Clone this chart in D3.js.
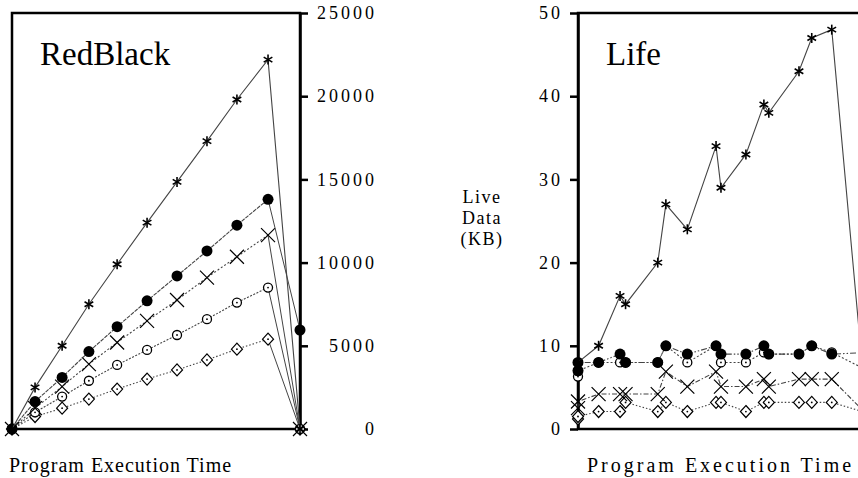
<!DOCTYPE html>
<html>
<head>
<meta charset="utf-8">
<script src="https://cdn.jsdelivr.net/npm/d3@7"></script>
<style>
  body { margin: 0; background: #fff; }
  svg { display: block; }
  text { font-family: "Liberation Serif", "DejaVu Serif", serif; fill: #000; }
</style>
</head>
<body>
<svg id="chart" width="858" height="478"></svg>
<script>
// RedBlack panel: time in % of run, live data in KB
const rbTime    = [0, 8, 17.4, 26.7, 36.5, 46.9, 57.3, 67.7, 78.1, 88.9, 100];
const rbStar    = [0, 2500, 5000, 7500, 9900, 12400, 14850, 17300, 19800, 22200, 0];
const rbFilled  = [0, 1650, 3100, 4650, 6150, 7700, 9200, 10700, 12250, 13800, 5950];
const rbCross   = [0, 1250, 2550, 3900, 5200, 6500, 7750, 9100, 10350, 11650, 0];
const rbOpen    = [0, 1000, 1950, 2900, 3850, 4750, 5650, 6600, 7600, 8500, 0];
const rbDiamond = [0, 750, 1250, 1800, 2400, 3000, 3550, 4150, 4800, 5400, 0];
const rbTicks   = [0, 5000, 10000, 15000, 20000, 25000];

// Life panel
const lifeTime    = [0, 0, 7.1, 14.5, 16.4, 27.5, 30.3, 37.7, 47.6, 49.3, 57.9, 64.1, 65.8, 76.2, 80.6, 87.5, 100];
const lifeStar    = [8, 8, 10, 16, 15, 20, 27, 24, 34, 29, 33, 39, 38, 43, 47, 48, 0];
const lifeFilled  = [7, 8, 8, 9, 8, 8, 10, 9, 10, 9, 9, 10, 9, 9, 10, 9, 9.2];
const lifeOpen    = [6.3, 7, 8, 8, 8, 8, 10, 8, 10, 8, 8, 9.2, 9, 9, 10, 9.2, 7];
const lifeCross   = [2.5, 3.3, 4.2, 4.2, 4.2, 4.2, 6.9, 5.1, 6.9, 5.1, 5.1, 6, 5.1, 6, 6, 6, 1.6];
const lifeDiamond = [1.2, 1.5, 2.1, 2.1, 3.2, 2.1, 3.2, 2.1, 3.2, 3.2, 2.1, 3.2, 3.2, 3.2, 3.2, 3.2, 1.9];
const lifeTicks   = [0, 10, 20, 30, 40, 50];

const svg = d3.select("#chart");

const leftX  = d3.scaleLinear().domain([0, 100]).range([12, 300]);
const leftY  = d3.scaleLinear().domain([0, 25000]).range([429, 13]);
const rightX = d3.scaleLinear().domain([0, 100]).range([578, 868]);
const rightY = d3.scaleLinear().domain([0, 50]).range([429, 13]);

// draw one marker glyph
function marker(g, type, x, y) {
    if (type === "star") {
        const r = 5;
        for (let a of [90, 30, -30]) {
            const dx = r * Math.cos(a * Math.PI / 180), dy = r * Math.sin(a * Math.PI / 180);
            g.append("line").attr("x1", x - dx).attr("y1", y - dy).attr("x2", x + dx).attr("y2", y + dy)
             .attr("stroke", "#000").attr("stroke-width", 1.6);
        }
    } else if (type === "filled") {
        g.append("circle").attr("cx", x).attr("cy", y).attr("r", 5.5).attr("fill", "#000");
    } else if (type === "cross") {
        const r = 7;
        g.append("path").attr("d", `M${x - r},${y - r}L${x + r},${y + r}M${x - r},${y + r}L${x + r},${y - r}`)
         .attr("stroke", "#000").attr("stroke-width", 1.2).attr("fill", "none");
    } else if (type === "open") {
        g.append("circle").attr("cx", x).attr("cy", y).attr("r", 4.5)
         .attr("fill", "#fff").attr("stroke", "#000").attr("stroke-width", 1.3);
        g.append("circle").attr("cx", x).attr("cy", y).attr("r", 0.9).attr("fill", "#000");
    } else if (type === "diamond") {
        g.append("path").attr("d", `M${x},${y - 6}L${x + 5.5},${y}L${x},${y + 6}L${x - 5.5},${y}Z`)
         .attr("fill", "#fff").attr("stroke", "#000").attr("stroke-width", 1.2);
        g.append("circle").attr("cx", x).attr("cy", y).attr("r", 0.9).attr("fill", "#000");
    }
}

function drawSeries(g, xs, ys, times, vals, type, dash, solidLast) {
    const line = d3.line().x(d => xs(d[0])).y(d => ys(d[1]));
    const pts = times.map((t, i) => [t, vals[i]]);
    const body = solidLast ? pts.slice(0, -1) : pts;
    g.append("path").datum(body).attr("d", line)
     .attr("fill", "none").attr("stroke", "#444").attr("stroke-width", 1.1)
     .attr("stroke-dasharray", dash);
    if (solidLast) {
        g.append("path").datum(pts.slice(-2)).attr("d", line)
         .attr("fill", "none").attr("stroke", "#444").attr("stroke-width", 1);
    }
    const mg = g.append("g");
    pts.forEach(p => marker(mg, type, xs(p[0]), ys(p[1])));
}

function styleAxis(a, labelX) {
    a.select(".domain").attr("stroke-width", 2.5);
    a.selectAll(".tick line").attr("stroke-width", 2.5);
    a.selectAll(".tick text")
     .attr("x", labelX).attr("text-anchor", "end")
     .style("font-family", '"Liberation Serif", serif')
     .style("font-size", "18px").style("letter-spacing", "3px");
}

// ---- RedBlack ----
const left = svg.append("g");
left.append("rect").attr("x", 12).attr("y", 13).attr("width", 288).attr("height", 416)
    .attr("fill", "none").attr("stroke", "#000").attr("stroke-width", 2.5);

const la = left.append("g").attr("transform", "translate(300,0)")
    .call(d3.axisRight(leftY).tickValues(rbTicks).tickSize(8).tickSizeOuter(0).tickFormat(d3.format("d")));
styleAxis(la, 77);

const leftSeries = left.append("g");
drawSeries(leftSeries, leftX, leftY, rbTime, rbDiamond, "diamond", "1.5,2", true);
drawSeries(leftSeries, leftX, leftY, rbTime, rbOpen, "open", "2,1.5", true);
drawSeries(leftSeries, leftX, leftY, rbTime, rbCross, "cross", "2,2", true);
drawSeries(leftSeries, leftX, leftY, rbTime, rbFilled, "filled", "4,1", true);
drawSeries(leftSeries, leftX, leftY, rbTime, rbStar, "star", null, false);

left.append("text").attr("x", 40).attr("y", 65).style("font-size", "33px").text("RedBlack");
left.append("text").attr("x", 9).attr("y", 472)
    .style("font-size", "20px").style("letter-spacing", "1px").text("Program Execution Time");

// ---- Life ----
const right = svg.append("g");
right.append("path").attr("d", "M858,13H578V429H858")
    .attr("fill", "none").attr("stroke", "#000").attr("stroke-width", 2.5);

const ra = right.append("g").attr("transform", "translate(578,0)")
    .call(d3.axisLeft(rightY).tickValues(lifeTicks).tickSize(8).tickSizeOuter(0));
styleAxis(ra, -15);

const rightSeries = right.append("g");
drawSeries(rightSeries, rightX, rightY, lifeTime, lifeDiamond, "diamond", "1.5,2", false);
drawSeries(rightSeries, rightX, rightY, lifeTime, lifeCross, "cross", "5,2,1.5,2", false);
drawSeries(rightSeries, rightX, rightY, lifeTime, lifeOpen, "open", "2,2", false);
drawSeries(rightSeries, rightX, rightY, lifeTime, lifeFilled, "filled", "6,2,1.5,2,1.5,2", false);
drawSeries(rightSeries, rightX, rightY, lifeTime, lifeStar, "star", null, false);

right.append("text").attr("x", 606).attr("y", 65).style("font-size", "33px").text("Life");
right.append("text").attr("x", 587).attr("y", 472)
    .style("font-size", "20px").style("letter-spacing", "3px").text("Program Execution Time");

// y-axis title between the panels
const yt = svg.append("text").attr("text-anchor", "middle")
    .style("font-size", "18px").style("letter-spacing", "1.5px");
["Live", "Data", "(KB)"].forEach((s, i) =>
    yt.append("tspan").attr("x", 482).attr("y", 203 + i * 21).text(s));
</script>
</body>
</html>
